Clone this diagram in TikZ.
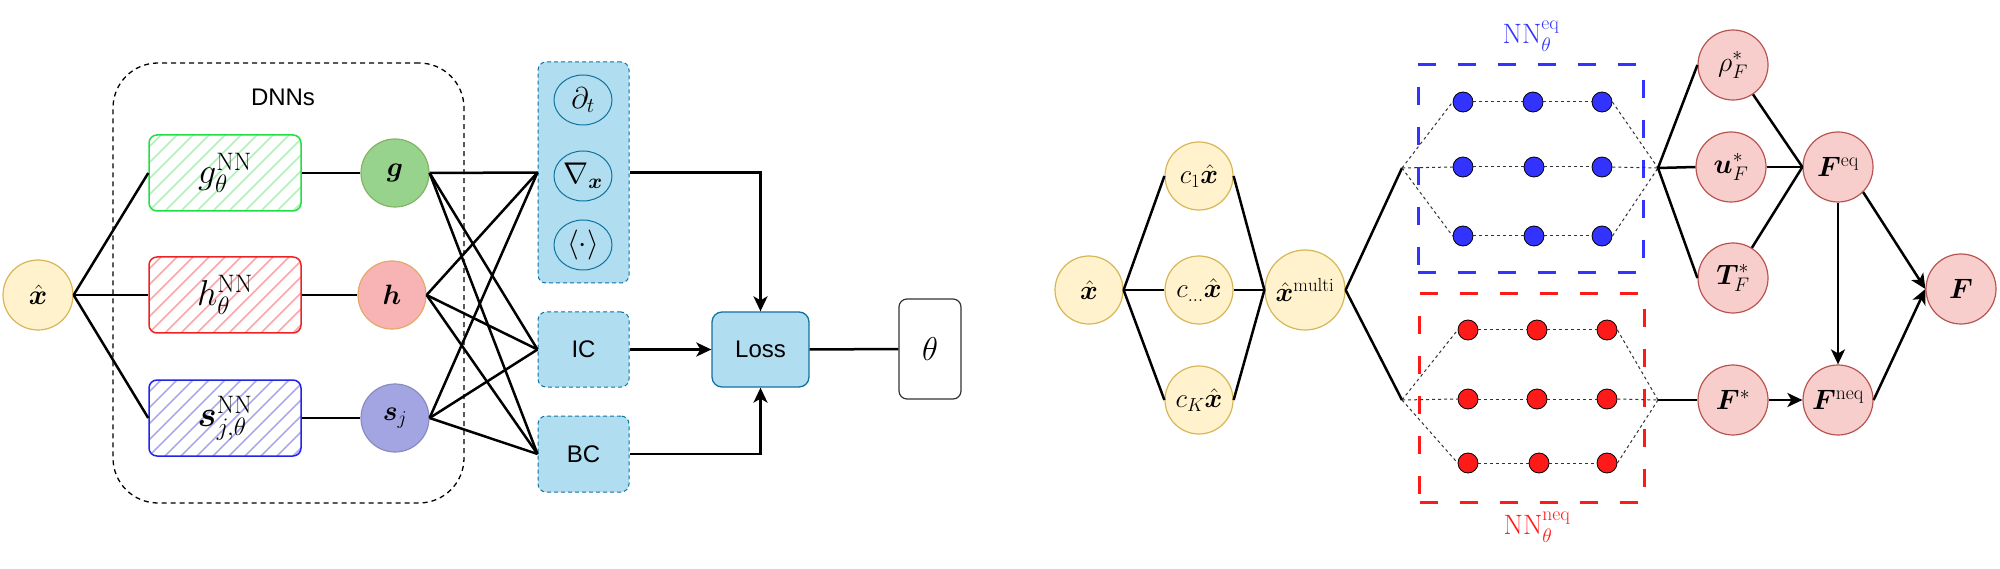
\RequirePackage{fix-cm}
\documentclass[tikz,border=0pt]{standalone}
\usepackage{amsmath}
\usepackage{fontspec}
\setsansfont{Liberation Sans}
\usepackage{bm}
\usetikzlibrary{arrows.meta,shapes.geometric}
\newcommand\setfs[1]{\fontsize{#1}{#1}\selectfont}
\definecolor{ylwF}{HTML}{FFF2CC}\definecolor{ylwD}{HTML}{D6B656}
\definecolor{grnF}{HTML}{97D38D}\definecolor{grnD}{HTML}{82B366}
\definecolor{redF}{HTML}{F8B4B4}\definecolor{redD}{HTML}{E6A86A}
\definecolor{bluF}{HTML}{A3A5E2}\definecolor{bluD}{HTML}{8A8CC0}
\definecolor{cyanF}{HTML}{B1DDF0}\definecolor{cyanD}{HTML}{10739E}
\definecolor{pinkF}{HTML}{F8CECC}\definecolor{pinkD}{HTML}{B85450}
\definecolor{netB}{HTML}{3333FF}\definecolor{netR}{HTML}{FF1A1A}
\definecolor{hgD}{HTML}{22DD44}\definecolor{hgF}{HTML}{B4EEBE}
\definecolor{hrD}{HTML}{EE2222}\definecolor{hrF}{HTML}{F4AAAA}
\definecolor{hbD}{HTML}{2222EE}\definecolor{hbF}{HTML}{AAAAF4}
\begin{document}
\begin{tikzpicture}[x=1pt,y=-1pt,
  ln/.style={line width=2.5pt},
  arr/.style={line width=2.5pt,-{Stealth[length=15pt,width=14pt,inset=4pt]}},
  yc/.style={circle,draw=ylwD,fill=ylwF,line width=1.2pt,inner sep=0pt,minimum size=68pt},
  pc/.style={circle,draw=pinkD,fill=pinkF,line width=1.2pt,inner sep=0pt,minimum size=70pt,font=\setfs{28}},
  hatchbox/.style={rectangle,rounded corners=8pt,line width=1.5pt,minimum width=152pt,minimum height=76pt,inner sep=0pt,font=\setfs{36},
    path picture={\foreach \i in {-80,-64,...,160} \draw[line width=1.5pt,#1] ([xshift=\i pt]path picture bounding box.south west) -- ++(100,-100);}},
  cybox/.style={rectangle,rounded corners=8pt,draw=cyanD,fill=cyanF,line width=1pt,dash pattern=on 4pt off 3pt,minimum width=91pt,inner sep=0pt,font=\sffamily\setfs{24}},
  ell/.style={ellipse,draw=cyanD,line width=1pt,minimum width=58pt,minimum height=50pt,inner sep=0pt,font=\setfs{30}},
  dotb/.style={circle,draw=black,line width=0.8pt,fill=netB,minimum size=20pt,inner sep=0pt},
  dotr/.style={dotb,fill=netR},
  dl/.style={line width=1pt,black!80,dash pattern=on 3pt off 3pt},
  netbox/.style={rectangle,line width=3pt,dash pattern=on 18pt off 22pt,inner sep=0pt,minimum width=225pt,minimum height=208pt}
]
\useasboundingbox (0,0) rectangle (2000,569);
% ---------------- left part ----------------
\node[draw,rounded corners=45pt,dash pattern=on 5pt off 4pt,line width=1.3pt,minimum width=351pt,minimum height=440pt,inner sep=0pt] (dnn) at (288.5,283) {};
\node[font=\sffamily\setfs{24}] (dnnlbl) at (283,97) {DNNs};
\node[yc,minimum size=70pt,font=\setfs{28}] (xa) at (38,295) {$\bm{\hat{x}}$};
\node[hatchbox=hgF,draw=hgD] (gb) at (225,173) {$g_{\theta}^{\mathrm{NN}}$};
\node[hatchbox=hrF,draw=hrD] (hb) at (225,295) {$h_{\theta}^{\mathrm{NN}}$};
\node[hatchbox=hbF,draw=hbD] (sb) at (225,418) {$\bm{s}_{j,\theta}^{\mathrm{NN}}$};
\node[circle,draw=grnD,fill=grnF,line width=1.2pt,minimum size=68pt,inner sep=0pt,font=\setfs{28}] (gc) at (395,173) {$\bm{g}$};
\node[circle,draw=redD,fill=redF,line width=1.2pt,minimum size=68pt,inner sep=0pt,font=\setfs{28}] (hc) at (392,295) {$\bm{h}$};
\node[circle,draw=bluD,fill=bluF,line width=1.2pt,minimum size=68pt,inner sep=0pt,font=\setfs{28}] (sc) at (395,418) {$\bm{s}_j$};
\node[cybox,minimum height=221pt] (pde) at (583.5,172.5) {};
\node[ell] (dt) at (583,100) {$\partial_t$};
\node[ell] (nab) at (583,176) {$\nabla_{\bm{x}}$};
\node[ell] (avg) at (583,245) {$\langle\cdot\rangle$};
\node[cybox,minimum height=75pt] (ic) at (583.5,349.5) {IC};
\node[cybox,minimum height=76pt] (bc) at (583.5,454) {BC};
\node[rectangle,rounded corners=10pt,draw=cyanD,fill=cyanF,line width=1.3pt,minimum width=97pt,minimum height=75pt,font=\sffamily\setfs{24}] (loss) at (760.5,349.5) {Loss};
\node[rectangle,rounded corners=8pt,draw=black!80,line width=1.2pt,minimum width=62pt,minimum height=100pt,font=\setfs{33}] (th) at (930,349) {$\theta$};
\foreach \b in {gb,hb,sb} \draw[ln] (xa.east) -- (\b.west);
\draw[ln] (gb.east) -- (gc.west);
\draw[ln] (hb.east) -- (hc.west);
\draw[ln] (sb.east) -- (sc.west);
\foreach \c in {gc,hc,sc} {
  \draw[ln] (\c.east) -- (pde.west);
  \draw[ln] (\c.east) -- (ic.west);
  \draw[ln] (\c.east) -- (bc.west);
}
\draw[arr] (pde.east) -| (loss.north);
\draw[arr] (ic.east) -- (loss.west);
\draw[arr] (bc.east) -| (loss.south);
\draw[ln] (loss.east) -- (th.west);
% ---------------- right part ----------------
\node[yc,font=\setfs{27}] (xb) at (1089,290) {$\bm{\hat{x}}$};
\node[yc,font=\setfs{27}] (c1) at (1199,176) {$c_1\bm{\hat{x}}$};
\node[yc,font=\setfs{27}] (cm) at (1199,290) {$c_{\ldots}\bm{\hat{x}}$};
\node[yc,font=\setfs{27}] (cK) at (1199,400) {$c_K\bm{\hat{x}}$};
\node[yc,minimum size=80pt,font=\setfs{27}] (xm) at (1305,290) {$\bm{\hat{x}}^{\mathrm{multi}}$};
\foreach \c in {c1,cm,cK} {
  \draw[ln] (xb.east) -- (\c.west);
  \draw[ln] (\c.east) -- (xm.west);
}
\coordinate (jeqL) at (1402,168);
\coordinate (jeqR) at (1658,168);
\coordinate (jneqL) at (1402,400);
\coordinate (jneqR) at (1658,400);
\draw[ln] (xm.east) -- (jeqL);
\draw[ln] (xm.east) -- (jneqL);
\node[netbox,draw=netB] (boxeq) at (1530.5,169) {};
\node[netbox,draw=netR] (boxneq) at (1532,398) {};
\node[text=netB,font=\setfs{28}] (lbleq) at (1531,36) {$\mathrm{NN}_{\theta}^{\mathrm{eq}}$};
\node[text=netR,font=\setfs{28}] (lblneq) at (1537,527) {$\mathrm{NN}_{\theta}^{\mathrm{neq}}$};
% eq dots
\node[dotb] (e11) at (1463,102) {}; \node[dotb] (e12) at (1533,102) {}; \node[dotb] (e13) at (1602,102) {};
\node[dotb] (e21) at (1463,167) {}; \node[dotb] (e22) at (1534,167) {}; \node[dotb] (e23) at (1602,167) {};
\node[dotb] (e31) at (1463,236) {}; \node[dotb] (e32) at (1534,236) {}; \node[dotb] (e33) at (1602,236) {};
% neq dots
\node[dotr] (n11) at (1468,330) {}; \node[dotr] (n12) at (1537,330) {}; \node[dotr] (n13) at (1607,330) {};
\node[dotr] (n21) at (1468,399) {}; \node[dotr] (n22) at (1537,399) {}; \node[dotr] (n23) at (1607,399) {};
\node[dotr] (n31) at (1468,463) {}; \node[dotr] (n32) at (1539,463) {}; \node[dotr] (n33) at (1607,463) {};
\foreach \r in {1,2,3} {
  \draw[dl] (jeqL) -- (e\r1.west);
  \draw[dl] (e\r1.east) -- (e\r2.west);
  \draw[dl] (e\r2.east) -- (e\r3.west);
  \draw[dl] (e\r3.east) -- (jeqR);
  \draw[dl] (jneqL) -- (n\r1.west);
  \draw[dl] (n\r1.east) -- (n\r2.west);
  \draw[dl] (n\r2.east) -- (n\r3.west);
  \draw[dl] (n\r3.east) -- (jneqR);
}
\node[pc] (rho) at (1733,65) {$\rho_F^*$};
\node[pc] (u) at (1731,167) {$\bm{u}_F^*$};
\node[pc] (T) at (1733,278) {$\bm{T}_F^*$};
\node[pc] (Feq) at (1838,167) {$\bm{F}^{\mathrm{eq}}$};
\node[pc] (F) at (1961,289) {$\bm{F}$};
\node[pc] (Fs) at (1733,400) {$\bm{F}^*$};
\node[pc] (Fneq) at (1838,400) {$\bm{F}^{\mathrm{neq}}$};
\draw[ln] (jeqR) -- (rho.west);
\draw[ln] (jeqR) -- (u.west);
\draw[ln] (jeqR) -- (T.west);
\draw[ln] (rho) -- (Feq.west);
\draw[ln] (u.east) -- (Feq.west);
\draw[ln] (T) -- (Feq.west);
\draw[ln] (jneqR) -- (Fs.west);
\draw[arr] (Fs.east) -- (Fneq.west);
\draw[arr] (Feq.south) -- (Fneq.north);
\draw[arr] (Feq.south east) -- (F.west);
\draw[arr] (Fneq.east) -- (F.west);
\end{tikzpicture}
\end{document}
